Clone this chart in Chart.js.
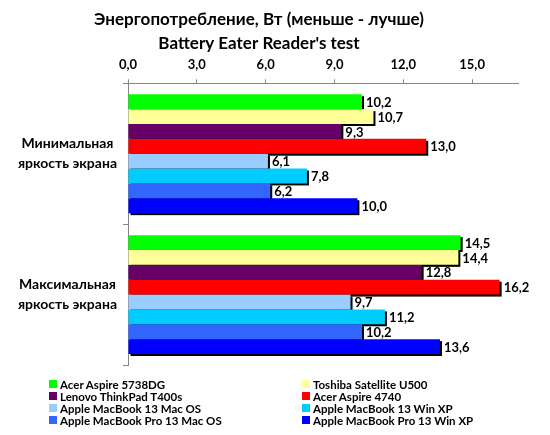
<!DOCTYPE html>
<html>
<head>
<meta charset="utf-8">
<script src="https://cdn.jsdelivr.net/npm/chart.js@4"></script>
<style>
    html, body { margin: 0; padding: 0; background: #fff; }
    #wrap { position: relative; width: 550px; height: 435px; }
    #legend {
        position: absolute; left: 49px; top: 378px;
        display: grid; grid-template-columns: 253px 220px;
        font: bold 11.5px Lato, "Noto Sans", sans-serif; color: #000;
    }
    .item { display: flex; align-items: center; height: 12px; white-space: nowrap; }
    .box { width: 8px; height: 8px; margin-right: 3px; flex: none; }
</style>
</head>
<body>
<div id="wrap">
    <canvas id="chart" width="550" height="435"></canvas>
    <div id="legend"></div>
</div>
<script>
const titleLines = ['Энергопотребление, Вт (меньше - лучше)', "Battery Eater Reader's test"];
const categories = [['Минимальная', 'яркость экрана'], ['Максимальная', 'яркость экрана']];
const xTicks = [0, 3, 6, 9, 12, 15];

const seriesNames = [
    'Acer Aspire 5738DG', 'Toshiba Satellite U500',
    'Lenovo ThinkPad T400s', 'Acer Aspire 4740',
    'Apple MacBook 13 Mac OS', 'Apple MacBook 13 Win XP',
    'Apple MacBook Pro 13 Mac OS', 'Apple MacBook Pro 13 Win XP'
];
const seriesColors = ['#00FF00', '#FFFF99', '#660066', '#FF0000', '#99CCFF', '#00CCFF', '#3366FF', '#0000FF'];

// values: [min brightness, max brightness]
const acer5738dg = [10.2, 14.5];
const toshibaU500 = [10.7, 14.4];
const lenovoT400s = [9.3, 12.8];
const acer4740 = [13.0, 16.2];
const macbookMacOs = [6.1, 9.7];
const macbookWinXp = [7.8, 11.2];
const macbookProMacOs = [6.2, 10.2];
const macbookProWinXp = [10.0, 13.6];

const seriesValues = [acer5738dg, toshibaU500, lenovoT400s, acer4740, macbookMacOs, macbookWinXp, macbookProMacOs, macbookProWinXp];

const fontFamily = 'Lato, "Noto Sans", sans-serif';
const axisColor = '#868686';
const fmt = v => Number(v).toFixed(1).replace('.', ',');

// black drop shadow behind every bar, drawn before the bars
const barShadow = {
    id: 'barShadow',
    beforeDatasetsDraw(chart) {
        const ctx = chart.ctx;
        ctx.save();
        ctx.fillStyle = '#000';
        chart.data.datasets.forEach((ds, i) => {
            chart.getDatasetMeta(i).data.forEach(bar => {
                const h = bar.height;
                ctx.fillRect(bar.base + 2, bar.y - h / 2 + 2, bar.x - bar.base, h);
            });
        });
        ctx.restore();
    }
};

const valueLabels = {
    id: 'valueLabels',
    afterDatasetsDraw(chart) {
        const ctx = chart.ctx;
        ctx.save();
        ctx.font = 'bold 13px ' + fontFamily;
        ctx.fillStyle = '#000';
        ctx.textBaseline = 'middle';
        ctx.textAlign = 'left';
        chart.data.datasets.forEach((ds, i) => {
            chart.getDatasetMeta(i).data.forEach((bar, j) => {
                ctx.fillText(fmt(ds.data[j]), bar.x + 4, bar.y + 1);
            });
        });
        ctx.restore();
    }
};

new Chart(document.getElementById('chart'), {
    type: 'bar',
    data: {
        labels: categories,
        datasets: seriesNames.map((name, i) => ({
            label: name,
            data: seriesValues[i],
            backgroundColor: seriesColors[i],
            borderWidth: 0,
            categoryPercentage: 0.844,
            barPercentage: 1
        }))
    },
    options: {
        indexAxis: 'y',
        responsive: false,
        animation: false,
        layout: { padding: { left: 0, right: 32, top: 0, bottom: 70 } },
        plugins: {
            legend: { display: false },
            tooltip: { enabled: false },
            title: {
                display: true,
                text: titleLines,
                color: '#000',
                font: { family: fontFamily, size: 17, weight: 'bold', lineHeight: 1.42 },
                padding: { top: 7, bottom: 0 }
            }
        },
        scales: {
            x: {
                position: 'top',
                min: 0,
                max: 17,
                afterBuildTicks: scale => { scale.ticks = xTicks.map(v => ({ value: v })); },
                afterFit: scale => { scale.height = 28; },
                grid: { drawOnChartArea: false, tickLength: 4, color: axisColor },
                border: { color: axisColor },
                ticks: {
                    padding: 7,
                    color: '#000',
                    font: { family: fontFamily, size: 13, weight: 'bold' },
                    callback: v => fmt(v)
                }
            },
            y: {
                afterFit: scale => { scale.width = 128; },
                grid: { drawOnChartArea: false, tickLength: 5, color: axisColor, offset: true },
                border: { color: axisColor },
                ticks: {
                    crossAlign: 'center',
                    padding: 6,
                    color: '#000',
                    font: { family: fontFamily, size: 14, weight: 'bold', lineHeight: 1.43 }
                }
            }
        }
    },
    plugins: [barShadow, valueLabels]
});

// two-column legend, row by row in series order
const legend = document.getElementById('legend');
seriesNames.forEach((name, i) => {
    const item = document.createElement('div');
    item.className = 'item';
    const box = document.createElement('span');
    box.className = 'box';
    box.style.background = seriesColors[i];
    const label = document.createElement('span');
    label.textContent = name;
    item.appendChild(box);
    item.appendChild(label);
    legend.appendChild(item);
});
</script>
</body>
</html>
